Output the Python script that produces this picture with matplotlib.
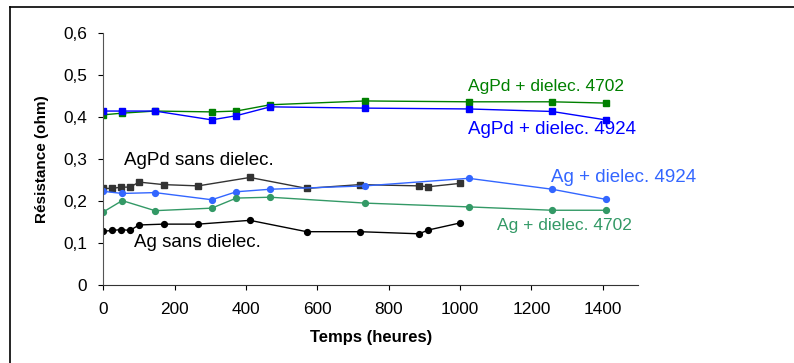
import matplotlib
matplotlib.use("Agg")
import matplotlib.pyplot as plt
from matplotlib.lines import Line2D

# temps (heures)
t_dielec = [0, 53, 145, 304, 373, 468, 734, 1024, 1258, 1408]
t_sans = [0, 25, 50, 75, 100, 169, 266, 411, 570, 719, 885, 911, 1001]

# resistance (ohm)
agpd_4702 = [0.406, 0.410, 0.415, 0.413, 0.415, 0.430, 0.439, 0.437, 0.437, 0.434]
agpd_4924 = [0.415, 0.415, 0.415, 0.394, 0.404, 0.425, 0.422, 0.420, 0.414, 0.394]
ag_4924 = [0.224, 0.219, 0.221, 0.204, 0.223, 0.229, 0.237, 0.255, 0.229, 0.205]
ag_4702 = [0.175, 0.202, 0.178, 0.184, 0.208, 0.210, 0.196, 0.187, 0.179, 0.179]
agpd_sans = [0.231, 0.231, 0.234, 0.234, 0.246, 0.240, 0.237, 0.257, 0.231, 0.240, 0.237, 0.235, 0.243]
ag_sans = [0.129, 0.131, 0.133, 0.131, 0.144, 0.146, 0.146, 0.155, 0.128, 0.128, 0.123, 0.132, 0.149]

xticks = [0, 200, 400, 600, 800, 1000, 1200, 1400]
yticks = [0, 0.1, 0.2, 0.3, 0.4, 0.5, 0.6]
ytick_labels = ["0", "0,1", "0,2", "0,3", "0,4", "0,5", "0,6"]

plt.rcParams['font.family'] = ['Liberation Sans', 'DejaVu Sans']

fig = plt.figure(figsize=(7.94, 3.63), dpi=100)
ax = fig.add_axes([0.1301, 0.2135, 0.674, 0.6948])

ax.plot(t_dielec, agpd_4702, color='#008000', marker='s', markersize=4.6, lw=1)
ax.plot(t_dielec, agpd_4924, color='#0000FF', marker='s', markersize=4.6, lw=1)
ax.plot(t_sans, agpd_sans, color='#333333', marker='s', markersize=4.6, lw=1)
ax.plot(t_dielec, ag_4924, color='#3366FF', marker='o', markersize=4.2, lw=1)
ax.plot(t_dielec, ag_4702, color='#339966', marker='o', markersize=4.2, lw=1)
ax.plot(t_sans, ag_sans, color='black', marker='o', markersize=4.2, lw=1)

ax.text(1021, 0.473, "AgPd + dielec. 4702", color='#008000', fontsize=12.5, va='center')
ax.text(1021, 0.371, "AgPd + dielec. 4924", color='#0000FF', fontsize=13.5, va='center')
ax.text(1255, 0.257, "Ag + dielec. 4924", color='#3366FF', fontsize=13.5, va='center')
ax.text(1104, 0.142, "Ag + dielec. 4702", color='#339966', fontsize=12.5, va='center')
ax.text(59, 0.298, "AgPd sans dielec.", color='black', fontsize=13.5, va='center')
ax.text(87, 0.103, "Ag sans dielec.", color='black', fontsize=13.5, va='center')

ax.set_xlim(0, 1500)
ax.set_ylim(0, 0.6)
ax.set_xticks(xticks)
ax.set_yticks(yticks)
ax.set_yticklabels(ytick_labels)
ax.tick_params(direction='out', length=3.6, width=0.8, labelsize=12.4, pad=8)
ax.spines['top'].set_visible(False)
ax.spines['right'].set_visible(False)
ax.spines['left'].set_color('#555555')
ax.spines['bottom'].set_color('#333333')

ax.set_xlabel("Temps (heures)", fontsize=12, fontweight='bold', labelpad=10)
ax.set_ylabel("Résistance (ohm)", fontsize=11, fontweight='bold', labelpad=10)

# cadre exterieur
fig.add_artist(Line2D([10 / 794, 1], [1 - 6.7 / 363, 1 - 6.7 / 363], color='black', lw=1.2))
fig.add_artist(Line2D([10 / 794, 10 / 794], [0, 1 - 6.7 / 363], color='black', lw=1.2))

fig.savefig("out.png", dpi=100)
